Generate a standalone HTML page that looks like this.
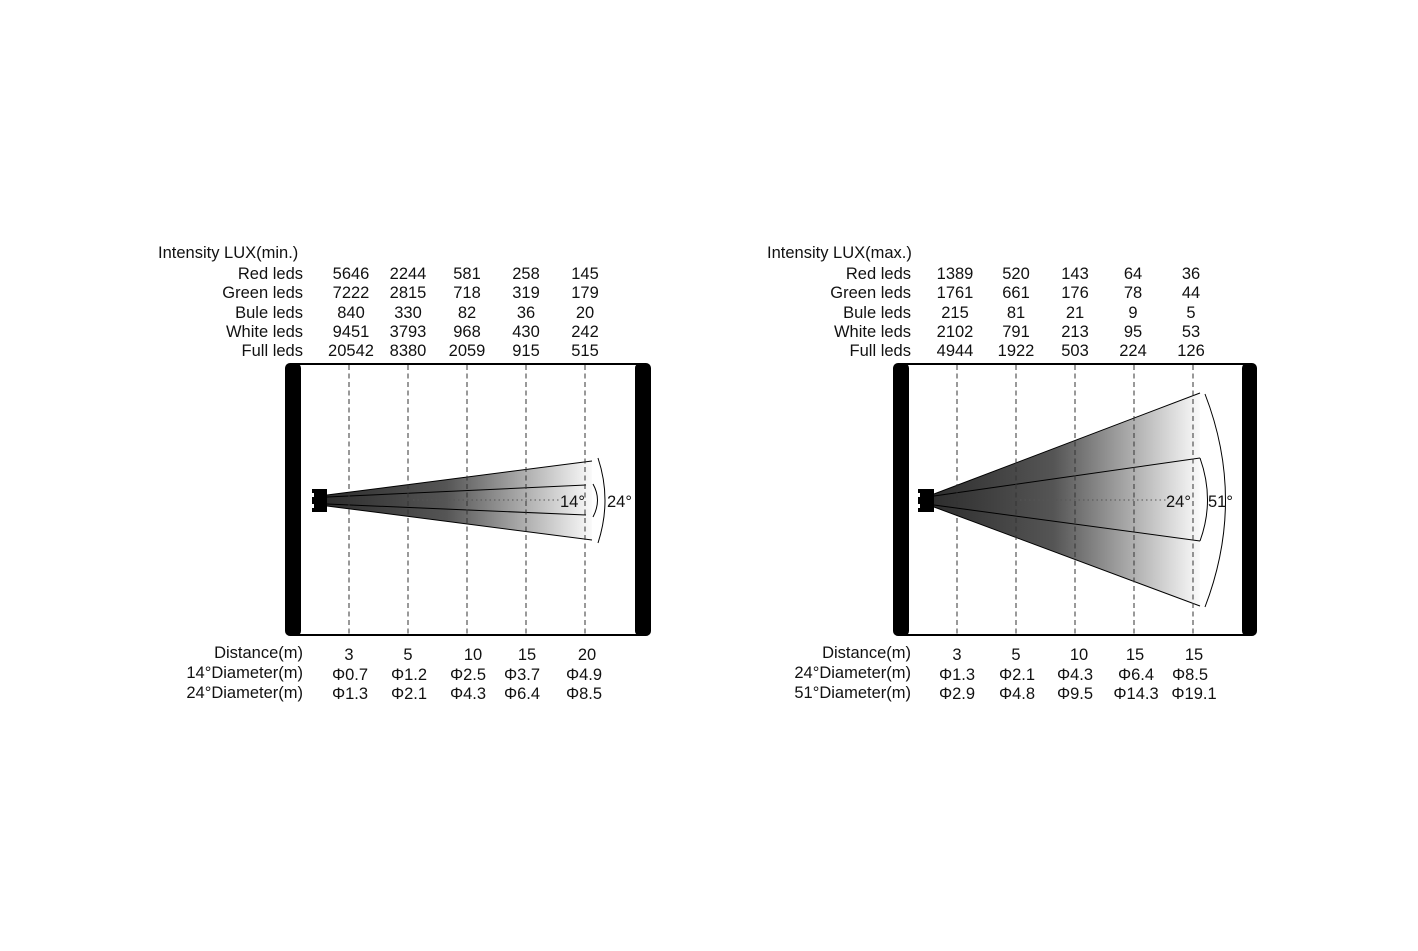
<!DOCTYPE html>
<html><head><meta charset="utf-8"><style>
html,body{margin:0;padding:0;background:#fff;}
svg text{font-family:"Liberation Sans",sans-serif;font-size:16.5px;fill:#111;}
</style></head><body>
<svg width="1418" height="946" viewBox="0 0 1418 946" xmlns="http://www.w3.org/2000/svg">
<defs>
<linearGradient id="g1" gradientUnits="userSpaceOnUse" x1="327" y1="0" x2="592" y2="0">
<stop offset="0" stop-color="#2e2e2e"/><stop offset="0.45" stop-color="#555"/><stop offset="1" stop-color="#fafafa"/></linearGradient>
<linearGradient id="g2" gradientUnits="userSpaceOnUse" x1="934" y1="0" x2="1200" y2="0">
<stop offset="0" stop-color="#2e2e2e"/><stop offset="0.45" stop-color="#555"/><stop offset="1" stop-color="#fafafa"/></linearGradient>
</defs>

<!-- LEFT -->
<text x="158" y="258">Intensity LUX(min.)</text>
<g text-anchor="end">
<text x="303" y="279">Red leds</text><text x="303" y="298">Green leds</text><text x="303" y="318">Bule leds</text><text x="303" y="337">White leds</text><text x="303" y="356">Full leds</text>
</g>
<g text-anchor="middle">
<text x="351" y="279">5646</text><text x="408" y="279">2244</text><text x="467" y="279">581</text><text x="526" y="279">258</text><text x="585" y="279">145</text>
<text x="351" y="298">7222</text><text x="408" y="298">2815</text><text x="467" y="298">718</text><text x="526" y="298">319</text><text x="585" y="298">179</text>
<text x="351" y="318">840</text><text x="408" y="318">330</text><text x="467" y="318">82</text><text x="526" y="318">36</text><text x="585" y="318">20</text>
<text x="351" y="337">9451</text><text x="408" y="337">3793</text><text x="467" y="337">968</text><text x="526" y="337">430</text><text x="585" y="337">242</text>
<text x="351" y="356">20542</text><text x="408" y="356">8380</text><text x="467" y="356">2059</text><text x="526" y="356">915</text><text x="585" y="356">515</text>
</g>
<rect x="286" y="364" width="364" height="271" rx="6" fill="none" stroke="#000" stroke-width="2"/>
<rect x="285" y="363" width="16" height="273" rx="5" fill="#000"/>
<rect x="635" y="363" width="16" height="273" rx="5" fill="#000"/>
<polygon points="327,495 592,461 592,540 327,506" fill="url(#g1)"/>
<g stroke="#000" stroke-width="1" fill="none">
<line x1="327" y1="495" x2="592" y2="461"/><line x1="327" y1="506" x2="592" y2="540"/>
<line x1="327" y1="497" x2="586" y2="485"/><line x1="327" y1="504" x2="586" y2="515"/>
<path d="M593,484 Q602,500 593,517"/>
<path d="M598,458 Q612,500 598,543"/>
</g>
<line x1="413" y1="500" x2="560" y2="500" stroke="#555" stroke-dasharray="1.5,3"/>
<g stroke="#333" stroke-dasharray="5,3.5" stroke-width="1">
<line x1="349" y1="365" x2="349" y2="635"/><line x1="408" y1="365" x2="408" y2="635"/><line x1="467" y1="365" x2="467" y2="635"/><line x1="526" y1="365" x2="526" y2="635"/><line x1="585" y1="365" x2="585" y2="635"/>
</g>
<path d="M312,489 h15 v23 h-15 v-4 h2 v-4 h-2 v-7 h2 v-4 h-2z" fill="#000"/>
<text x="560" y="507">14°</text><text x="607" y="507">24°</text>
<g text-anchor="end">
<text x="303" y="658">Distance(m)</text><text x="303" y="678">14°Diameter(m)</text><text x="303" y="698">24°Diameter(m)</text>
</g>
<g text-anchor="middle">
<text x="349" y="660">3</text><text x="408" y="660">5</text><text x="473" y="660">10</text><text x="527" y="660">15</text><text x="587" y="660">20</text>
<text x="350" y="680">Φ0.7</text><text x="409" y="680">Φ1.2</text><text x="468" y="680">Φ2.5</text><text x="522" y="680">Φ3.7</text><text x="584" y="680">Φ4.9</text>
<text x="350" y="699">Φ1.3</text><text x="409" y="699">Φ2.1</text><text x="468" y="699">Φ4.3</text><text x="522" y="699">Φ6.4</text><text x="584" y="699">Φ8.5</text>
</g>

<!-- RIGHT -->
<text x="767" y="258">Intensity LUX(max.)</text>
<g text-anchor="end">
<text x="911" y="279">Red leds</text><text x="911" y="298">Green leds</text><text x="911" y="318">Bule leds</text><text x="911" y="337">White leds</text><text x="911" y="356">Full leds</text>
</g>
<g text-anchor="middle">
<text x="955" y="279">1389</text><text x="1016" y="279">520</text><text x="1075" y="279">143</text><text x="1133" y="279">64</text><text x="1191" y="279">36</text>
<text x="955" y="298">1761</text><text x="1016" y="298">661</text><text x="1075" y="298">176</text><text x="1133" y="298">78</text><text x="1191" y="298">44</text>
<text x="955" y="318">215</text><text x="1016" y="318">81</text><text x="1075" y="318">21</text><text x="1133" y="318">9</text><text x="1191" y="318">5</text>
<text x="955" y="337">2102</text><text x="1016" y="337">791</text><text x="1075" y="337">213</text><text x="1133" y="337">95</text><text x="1191" y="337">53</text>
<text x="955" y="356">4944</text><text x="1016" y="356">1922</text><text x="1075" y="356">503</text><text x="1133" y="356">224</text><text x="1191" y="356">126</text>
</g>
<rect x="894" y="364" width="362" height="271" rx="6" fill="none" stroke="#000" stroke-width="2"/>
<rect x="893" y="363" width="16" height="273" rx="5" fill="#000"/>
<rect x="1242" y="363" width="15" height="273" rx="5" fill="#000"/>
<polygon points="934,494 1200,393 1200,606 934,507" fill="url(#g2)"/>
<g stroke="#000" stroke-width="1" fill="none">
<line x1="934" y1="494" x2="1200" y2="393"/><line x1="934" y1="507" x2="1200" y2="606"/>
<line x1="934" y1="496" x2="1200" y2="458"/><line x1="934" y1="505" x2="1200" y2="541"/>
<path d="M1200,458 Q1215,500 1200,541"/>
<path d="M1205,394 Q1246,500 1205,607"/>
</g>
<line x1="1020" y1="500" x2="1166" y2="500" stroke="#555" stroke-dasharray="1.5,3"/>
<g stroke="#333" stroke-dasharray="5,3.5" stroke-width="1">
<line x1="957" y1="365" x2="957" y2="635"/><line x1="1016" y1="365" x2="1016" y2="635"/><line x1="1075" y1="365" x2="1075" y2="635"/><line x1="1134" y1="365" x2="1134" y2="635"/><line x1="1193" y1="365" x2="1193" y2="635"/>
</g>
<path d="M918,489 h16 v23 h-16 v-4 h2 v-4 h-2 v-7 h2 v-4 h-2z" fill="#000"/>
<text x="1166" y="507">24°</text><text x="1208" y="507">51°</text>
<g text-anchor="end">
<text x="911" y="658">Distance(m)</text><text x="911" y="678">24°Diameter(m)</text><text x="911" y="698">51°Diameter(m)</text>
</g>
<g text-anchor="middle">
<text x="957" y="660">3</text><text x="1016" y="660">5</text><text x="1079" y="660">10</text><text x="1135" y="660">15</text><text x="1194" y="660">15</text>
<text x="957" y="680">Φ1.3</text><text x="1017" y="680">Φ2.1</text><text x="1075" y="680">Φ4.3</text><text x="1136" y="680">Φ6.4</text><text x="1190" y="680">Φ8.5</text>
<text x="957" y="699">Φ2.9</text><text x="1017" y="699">Φ4.8</text><text x="1075" y="699">Φ9.5</text><text x="1136" y="699">Φ14.3</text><text x="1194" y="699">Φ19.1</text>
</g>
</svg>
</body></html>
